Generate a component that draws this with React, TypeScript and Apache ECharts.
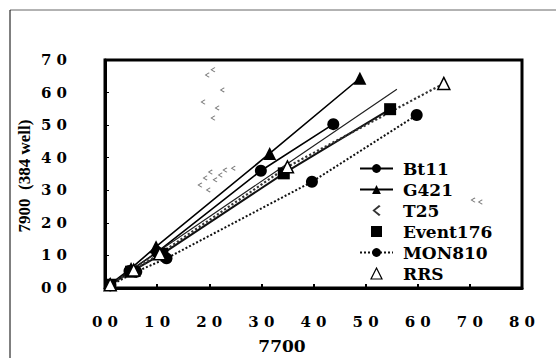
import React, { useEffect, useRef } from "react";
import * as echarts from "echarts";

const seriesNames = ["Bt11", "G421", "T25", "Event176", "MON810", "RRS"];
const bt11: number[][] = [[1, 1], [4.7, 5.2], [10, 11], [29.9, 36], [43.8, 50.3]];
const g421: number[][] = [[1, 1.2], [5, 6], [9.8, 12.7], [31.6, 41.3], [48.9, 64.4]];
const t25: number[][] = [[1, 1], [5, 5.5], [10, 11], [33, 36], [56, 61]];
const event176: number[][] = [[1, 1], [5, 5], [11, 10.5], [34.3, 35.2], [54.7, 54.9]];
const mon810: number[][] = [[1, 0.8], [6, 5], [11.8, 9.1], [39.7, 32.6], [59.8, 53.1]];
const rrs: number[][] = [[1, 1], [5.5, 5.5], [10.5, 10.5], [35, 37.2], [65, 62.8]];
const t25Marks: number[][] = [
  [19.6, 65.4], [20.7, 67], [22.5, 60.8], [18.8, 57.1], [21.5, 55.3], [20.7, 52.2],
  [18.2, 31.6], [19.2, 33.8], [20.2, 35.6], [21.1, 33.2], [22.1, 34.7], [23, 36.2],
  [19.8, 30.1], [24.6, 36.8], [70.6, 27], [72, 26.4],
];
const xTicks = { min: 0, max: 80, interval: 10 };
const yTicks = { min: 0, max: 70, interval: 10 };
const xTitle = "7700";
const yTitle = "7900  (384 well)";

const chevron = "path://M6,0 L7.5,1.2 L2.5,5 L7.5,8.8 L6,10 L0,5 Z";
const square = "path://M0,0 L10,0 L10,10 L0,10 Z";

const tickFmt = (v: number) => `${Math.round(v / 10)} 0`;

export default function App() {
  const ref = useRef<HTMLDivElement>(null);
  useEffect(() => {
    if (!ref.current) return;
    const chart = echarts.init(ref.current, undefined, { renderer: "svg" });
    const lineBase = (name: string, data: number[][], symbol: string, size: number, extra: any = {}) => ({
      type: "line",
      name,
      data,
      symbol,
      symbolSize: size,
      showSymbol: true,
      lineStyle: { color: "#000", width: 1.6 },
      itemStyle: { color: "#000" },
      z: 3,
      ...extra,
    });
    chart.setOption({
      animation: false,
      backgroundColor: "#fff",
      textStyle: { fontFamily: "DejaVu Serif" },
      grid: {
        left: 105, top: 60, width: 417, height: 228,
        show: true, borderColor: "#000", borderWidth: 3, backgroundColor: "transparent",
      },
      xAxis: {
        type: "value", ...xTicks,
        axisLine: { show: true, lineStyle: { color: "#000", width: 3 } },
        axisTick: { show: true, inside: true, length: 4, lineStyle: { color: "#000", width: 2 } },
        splitLine: { show: false },
        axisLabel: {
          formatter: tickFmt, margin: 26, color: "#000",
          fontFamily: "DejaVu Serif", fontWeight: "bold", fontSize: 15,
        },
      },
      yAxis: {
        type: "value", ...yTicks,
        axisLine: { show: true, lineStyle: { color: "#000", width: 3 } },
        axisTick: { show: true, inside: true, length: 4, lineStyle: { color: "#000", width: 1 } },
        splitLine: { show: false },
        axisLabel: {
          formatter: tickFmt, margin: 38, color: "#000",
          fontFamily: "DejaVu Serif", fontWeight: "bold", fontSize: 15,
        },
      },
      legend: {
        orient: "vertical",
        left: 359,
        top: 160,
        itemWidth: 33,
        itemHeight: 11,
        itemGap: 4,
        padding: 0,
        textStyle: {
          fontFamily: "DejaVu Serif", fontWeight: "bold", fontSize: 17, color: "#000",
          lineHeight: 17, padding: [0, 0, 0, 5],
        },
        data: [
          { name: "Bt11" },
          { name: "G421" },
          { name: "T25", icon: chevron, itemStyle: { color: "#333" } },
          { name: "Event176", icon: square },
          { name: "MON810" },
          { name: "RRS", icon: "path://M5,0 L10,10 L0,10 Z", itemStyle: { color: "#fff", borderColor: "#000", borderWidth: 1.2 } },
        ],
      },
      series: [
        lineBase(seriesNames[0], bt11, "circle", 12),
        lineBase(seriesNames[1], g421, "triangle", 13),
        lineBase(seriesNames[2], t25, "none", 4, { lineStyle: { color: "#222", width: 1.2 } }),
        lineBase(seriesNames[3], event176, "rect", 12, { lineStyle: { color: "#111", width: 2 } }),
        lineBase(seriesNames[4], mon810, "circle", 12, { lineStyle: { color: "#111", width: 2, type: "dotted" } }),
        lineBase(seriesNames[5], rrs, "triangle", 12, {
          lineStyle: { color: "#333", width: 2.2, type: "dotted" },
          itemStyle: { color: "#fff", borderColor: "#000", borderWidth: 1.5 },
        }),
        {
          type: "scatter",
          name: "T25 marks",
          data: t25Marks,
          symbol: chevron,
          symbolSize: 5,
          itemStyle: { color: "#555" },
          z: 2,
        },
      ],
      graphic: [
        { type: "line", shape: { x1: 10, y1: 10, x2: 556, y2: 10 }, style: { stroke: "#666", lineWidth: 1 } },
        { type: "line", shape: { x1: 10, y1: 10, x2: 10, y2: 358 }, style: { stroke: "#000", lineWidth: 1 } },
        {
          type: "text", x: 282, y: 346,
          style: {
            text: xTitle, fill: "#000", fontFamily: "DejaVu Serif", fontWeight: "bold", fontSize: 17,
            align: "center", verticalAlign: "middle",
          },
        },
        {
          type: "text", x: 24, y: 176, rotation: Math.PI / 2,
          style: {
            text: yTitle, fill: "#000", fontFamily: "Liberation Serif", fontWeight: "bold", fontSize: 17,
            align: "center", verticalAlign: "middle",
          },
        },
      ],
    });
    return () => chart.dispose();
  }, []);
  return (
    <div style={{ position: "fixed", left: 0, top: 0, width: 556, height: 358, background: "#fff" }}>
      <div ref={ref} style={{ width: 556, height: 358 }} />
    </div>
  );
}
